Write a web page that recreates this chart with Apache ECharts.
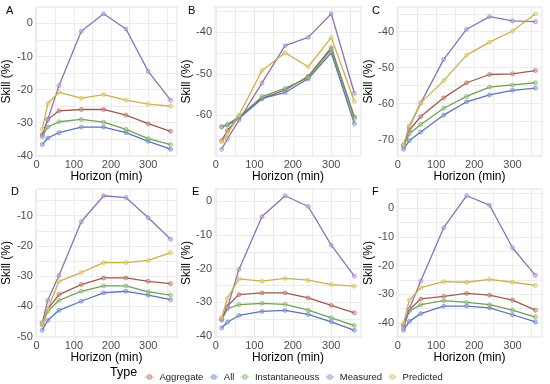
<!DOCTYPE html>
<html><head><meta charset="utf-8">
<script src="https://cdn.jsdelivr.net/npm/echarts@6/dist/echarts.min.js"></script>
<style>html,body{margin:0;padding:0;background:#fff}#c{width:550px;height:384px}</style>
</head><body><div id="c"></div>
<script>
const horizons = [15, 30, 60, 120, 180, 240, 300, 360];
const types = ['Aggregate', 'All', 'Instantaneouss', 'Measured', 'Predicted'];
const panelLabels = ['A', 'B', 'C', 'D', 'E', 'F'];
const xTickLabels = [0, 100, 200, 300];
const yTickLabelsA = [0, -10, -20, -30, -40];
const yTickLabelsB = [-40, -50, -60, -70];
const yTickLabelsC = [-40, -50, -60, -70];
const yTickLabelsD = [-10, -20, -30, -40, -50];
const yTickLabelsE = [0, -10, -20, -30, -40];
const yTickLabelsF = [0, -10, -20, -30, -40];

const A_aggregate = [-33.6, -29, -26.4, -26, -26, -27.7, -30.3, -32.6];
const A_all = [-36.6, -34.6, -33, -31.3, -31.3, -33, -35.6, -38];
const A_instantaneous = [-34, -31.3, -29.7, -29, -29.8, -32, -34.8, -36.6];
const A_measured = [-34.1, -29, -18.8, -2.4, 2.9, -1.7, -14.5, -23.2];
const A_predicted = [-32, -24.2, -20.8, -22.6, -21.5, -23.2, -24.4, -25];

const B_aggregate = [-66.1, -63.7, -60.4, -55.9, -53.9, -50.6, -43.7, -60.4];
const B_all = [-62.8, -62.4, -60.8, -56, -54.5, -51.2, -44.9, -62];
const B_instantaneous = [-62.8, -62.2, -60.4, -55.5, -53.5, -50.9, -44.1, -60.8];
const B_measured = [-68.2, -65.7, -61.2, -52.2, -43.2, -41.2, -35.5, -54.7];
const B_predicted = [-66.4, -64.5, -60, -49.2, -44.9, -48.3, -41.2, -56.7];

const C_aggregate = [-71.5, -67.4, -63.6, -58.4, -54.2, -51.9, -51.7, -50.8];
const C_all = [-72.7, -70.3, -67.9, -63.2, -59.5, -57.6, -56.3, -55.7];
const C_instantaneous = [-71.9, -68.4, -65.8, -61.3, -58, -55.4, -54.8, -54.2];
const C_measured = [-71.7, -66.5, -59.8, -47.7, -39.3, -35.8, -37, -37.2];
const C_predicted = [-71.5, -66.2, -59.8, -53.6, -46.5, -42.9, -39.8, -35];

const D_aggregate = [-45.7, -40.8, -36.1, -32.8, -30.6, -30.6, -31.7, -32.5];
const D_all = [-47.9, -44.6, -41.3, -38.3, -35.5, -35, -36.3, -37.8];
const D_instantaneous = [-46.2, -41.6, -38, -35, -33.2, -33.2, -35.2, -36.3];
const D_measured = [-45.4, -38, -29.8, -12, -3.4, -4, -10.7, -17.8];
const D_predicted = [-45.7, -40.8, -31.7, -28.8, -25.5, -25.5, -24.8, -22.2];

const E_aggregate = [-34.9, -31.1, -27.7, -27.2, -27.2, -28.7, -30.9, -33.1];
const E_all = [-37.6, -35.9, -33.9, -32.7, -32.4, -33.6, -35.8, -38.3];
const E_instantaneous = [-35.3, -31.9, -30.7, -30.3, -30.6, -32.3, -34.6, -36.9];
const E_measured = [-35.1, -31.6, -20.2, -4.5, 1.7, -1.5, -13, -22.2];
const E_predicted = [-34.6, -28.7, -23, -23.7, -22.9, -23.4, -24.7, -25.2];

const F_aggregate = [-40.6, -35.3, -31.6, -30.7, -29.7, -30.3, -32, -35.5];
const F_all = [-42.5, -39.4, -36.7, -34.1, -34.1, -34.7, -37.1, -39.6];
const F_instantaneous = [-40.9, -35.9, -33.6, -32.2, -32.8, -33.6, -35.5, -37.9];
const F_measured = [-41.7, -35, -25.4, -6.8, 4.3, 1, -13.8, -23.4];
const F_predicted = [-40, -32, -27.7, -25.6, -25.8, -24.8, -25.8, -26.9];

const panels = [
  [A_aggregate, A_all, A_instantaneous, A_measured, A_predicted],
  [B_aggregate, B_all, B_instantaneous, B_measured, B_predicted],
  [C_aggregate, C_all, C_instantaneous, C_measured, C_predicted],
  [D_aggregate, D_all, D_instantaneous, D_measured, D_predicted],
  [E_aggregate, E_all, E_instantaneous, E_measured, E_predicted],
  [F_aggregate, F_all, F_instantaneous, F_measured, F_predicted]
];
const yTickLabels = [yTickLabelsA, yTickLabelsB, yTickLabelsC, yTickLabelsD, yTickLabelsE, yTickLabelsF];

const colors = ['#9e5a4c', '#5a72bb', '#6f9f58', '#8c72b2', '#c9b04a'];
const fills = ['rgba(230,150,140,0.6)', 'rgba(150,170,230,0.6)', 'rgba(160,210,150,0.6)', 'rgba(200,170,230,0.6)', 'rgba(240,215,130,0.6)'];

const gridPos = [
  {left: 31, top: 7, width: 146, height: 149},
  {left: 215, top: 7, width: 146, height: 149},
  {left: 397, top: 7, width: 145, height: 149},
  {left: 31, top: 189, width: 146, height: 148},
  {left: 215, top: 189, width: 146, height: 148},
  {left: 397, top: 189, width: 145, height: 148}
];
const labelPos = [[6, 5], [188, 5], [372, 5], [11, 186], [192, 186], [372, 186]];

const FONT = '"Liberation Sans", Arial, sans-serif';
const xMinR = Math.min(...horizons), xMaxR = Math.max(...horizons);
const xPad = (xMaxR - xMinR) * 0.05;
const xMin = xMinR - xPad, xMax = xMaxR + xPad;
const xMinor = [];
for (let v = 0; v <= xMax; v += 50) xMinor.push(v);

const grids = [], xAxes = [], yAxes = [], series = [], graphics = [];
panels.forEach((pd, i) => {
  grids.push(Object.assign({show: true, borderColor: '#e2e2e2', borderWidth: 1, backgroundColor: 'transparent'}, gridPos[i]));
  const all = pd.flat();
  const lo = Math.min(...all), hi = Math.max(...all);
  const pad = (hi - lo) * 0.05;
  const yMin = lo - pad, yMax = hi + pad;
  const yMinor = [];
  for (let v = Math.ceil(yMin / 5) * 5; v <= yMax; v += 5) yMinor.push(v);
  xAxes.push({
    type: 'value', gridIndex: i, min: xMin, max: xMax,
    name: 'Horizon (min)', nameLocation: 'middle', nameGap: 12,
    nameTextStyle: {fontFamily: FONT, fontSize: 12, color: '#000'},
    axisLine: {show: false}, axisTick: {show: false, customValues: xMinor},
    axisLabel: {customValues: xTickLabels, margin: 3, fontFamily: FONT, fontSize: 11, color: '#4d4d4d'},
    splitLine: {show: true, lineStyle: {color: '#ececec', width: 1}}
  });
  yAxes.push({
    type: 'value', gridIndex: i, min: yMin, max: yMax,
    name: 'Skill (%)', nameLocation: 'middle', nameGap: 15, nameRotate: 90,
    nameTextStyle: {fontFamily: FONT, fontSize: 12, color: '#000'},
    axisLine: {show: false}, axisTick: {show: false, customValues: yMinor},
    axisLabel: {customValues: yTickLabels[i], margin: 3, fontFamily: FONT, fontSize: 11, color: '#4d4d4d'},
    splitLine: {show: true, lineStyle: {color: '#ececec', width: 1}}
  });
  pd.forEach((vals, k) => {
    series.push({
      type: 'line', name: types[k], xAxisIndex: i, yAxisIndex: i,
      data: horizons.map((h, j) => [h, vals[j]]),
      symbol: 'circle', symbolSize: 4, showSymbol: true,
      lineStyle: {color: colors[k], width: 1.3},
      itemStyle: {color: fills[k], borderColor: colors[k], borderWidth: 0.6, opacity: 0.9},
      color: colors[k],
      animation: false, z: 2 + k
    });
  });
  graphics.push({type: 'text', left: labelPos[i][0], top: labelPos[i][1],
    style: {text: panelLabels[i], fontFamily: FONT, fontSize: 11, fill: '#000'}});
});
graphics.push({type: 'text', left: 110, top: 366, style: {text: 'Type', fontFamily: FONT, fontSize: 12.5, fill: '#000'}});

const chart = echarts.init(document.getElementById('c'), null, {renderer: 'canvas'});
chart.setOption({
  animation: false,
  backgroundColor: '#fff',
  grid: grids, xAxis: xAxes, yAxis: yAxes, series: series,
  graphic: graphics,
  legend: {
    data: types, left: 139, top: 367, itemWidth: 10, itemHeight: 5, itemGap: 5,
    itemStyle: {opacity: 0.4},
    lineStyle: {opacity: 0.35, width: 1},
    textStyle: {fontFamily: FONT, fontSize: 9.5, color: '#222'}
  }
});
</script></body></html>
